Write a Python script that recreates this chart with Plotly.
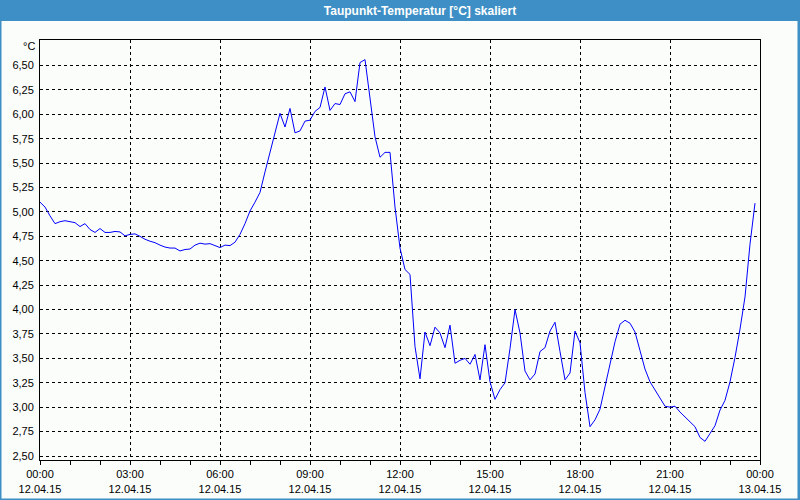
import pandas as pd
import plotly.graph_objects as go

# Dew point temperature, 10-minute samples from 12.04.15 00:00 to 23:50
start_time = "2015-04-12 00:00"
sample_minutes = 10
dewpoint = [
    5.10, 5.05, 4.96, 4.88, 4.90, 4.91,   # 00:00-00:50
    4.90, 4.89, 4.85, 4.88, 4.82, 4.79,   # 01
    4.83, 4.79, 4.79, 4.80, 4.795, 4.755, # 02
    4.77, 4.775, 4.75, 4.72, 4.70, 4.685, # 03
    4.66, 4.64, 4.63, 4.63, 4.60, 4.615,  # 04
    4.62, 4.66, 4.68, 4.67, 4.675, 4.655, # 05
    4.635, 4.66, 4.655, 4.69, 4.77, 4.88, # 06
    5.01, 5.10, 5.20, 5.41, 5.61, 5.81,   # 07
    6.01, 5.87, 6.06, 5.81, 5.83, 5.93,   # 08
    5.94, 6.03, 6.07, 6.28, 6.04, 6.11,   # 09
    6.10, 6.21, 6.23, 6.13, 6.53, 6.56,   # 10
    6.19, 5.77, 5.56, 5.61, 5.61, 5.05,   # 11
    4.63, 4.41, 4.36, 3.62, 3.29, 3.77,   # 12
    3.63, 3.82, 3.76, 3.61, 3.84, 3.45,   # 13
    3.48, 3.50, 3.44, 3.54, 3.28, 3.64,   # 14
    3.26, 3.08, 3.18, 3.25, 3.60, 4.00,   # 15
    3.76, 3.37, 3.28, 3.34, 3.57, 3.61,   # 16
    3.78, 3.87, 3.57, 3.28, 3.35, 3.78,   # 17
    3.66, 3.15, 2.80, 2.87, 2.98, 3.205,  # 18
    3.445, 3.67, 3.85, 3.89, 3.86, 3.77,  # 19
    3.58, 3.39, 3.26, 3.18, 3.10, 3.01,   # 20
    3.00, 3.01, 2.95, 2.90, 2.86, 2.80,   # 21
    2.69, 2.65, 2.73, 2.81, 2.97, 3.07,   # 22
    3.26, 3.51, 3.80, 4.13, 4.67, 5.09,   # 23
]

x_tick_times = ["2015-04-12 00:00", "2015-04-12 03:00", "2015-04-12 06:00",
                "2015-04-12 09:00", "2015-04-12 12:00", "2015-04-12 15:00",
                "2015-04-12 18:00", "2015-04-12 21:00", "2015-04-13 00:00"]
x_tick_labels = ["00:00<br>12.04.15", "03:00<br>12.04.15", "06:00<br>12.04.15",
                 "09:00<br>12.04.15", "12:00<br>12.04.15", "15:00<br>12.04.15",
                 "18:00<br>12.04.15", "21:00<br>12.04.15", "00:00<br>13.04.15"]
y_tick_values = [2.50, 2.75, 3.00, 3.25, 3.50, 3.75, 4.00, 4.25, 4.50,
                 4.75, 5.00, 5.25, 5.50, 5.75, 6.00, 6.25, 6.50]

title_text = "Taupunkt-Temperatur [°C] skaliert"
unit_text = "°C"

times = pd.date_range(start_time, periods=len(dewpoint), freq=f"{sample_minutes}min")

W, H = 800, 500
L, R, T, B = 40, 40, 40, 40
PW, PH = W - L - R, H - T - B

def px(xp):
    return (xp - L) / PW

def py(yp):
    return (H - B - yp) / PH

BG = "#FBFDFB"
BLUE_BAR = "#3D8FC5"
FONT = "Liberation Sans, Arial, sans-serif"

fig = go.Figure()
fig.add_trace(go.Scatter(x=times, y=dewpoint, mode="lines",
                         line=dict(color="#0000FF", width=1),
                         hoverinfo="x+y", showlegend=False))

fig.update_layout(
    width=W, height=H,
    margin=dict(l=L, r=R, t=T, b=B, pad=0, autoexpand=False),
    paper_bgcolor=BG, plot_bgcolor=BG,
    separators=",.",
    font=dict(family=FONT, size=11, color="#000000"),
    title=dict(text="<b>" + title_text + "</b>", x=420 / W, y=1 - 11 / H,
               xanchor="center", yanchor="middle", xref="container",
               yref="container",
               font=dict(family=FONT, size=12, color="#FFFFFF")),
    xaxis=dict(
        type="date", automargin=False,
        range=["2015-04-12 00:00", "2015-04-13 00:00"],
        tickmode="array", tickvals=x_tick_times, ticktext=x_tick_labels,
        showgrid=True, gridcolor="#000000", gridwidth=1, griddash="3px,3px",
        showline=True, linecolor="#000000", linewidth=1, mirror=True,
        ticks="outside", ticklen=4, tickcolor="#000000", tickwidth=1,
        minor=dict(dtick=3600000, ticks="outside", ticklen=4,
                   tickcolor="#000000", showgrid=False),
        tickfont=dict(family=FONT, size=11, color="#000000"),
        zeroline=False, fixedrange=True,
    ),
    yaxis=dict(
        automargin=False,
        range=[2.459, 6.761],
        tickmode="array", tickvals=y_tick_values, tickformat=".2f",
        showgrid=True, gridcolor="#000000", gridwidth=1, griddash="3px,3px",
        showline=True, linecolor="#000000", linewidth=1, mirror=True,
        ticks="", ticklabelstandoff=3,
        tickfont=dict(family=FONT, size=11, color="#000000"),
        zeroline=False, fixedrange=True,
    ),
    shapes=[
        dict(type="rect", xref="paper", yref="paper", layer="above",
             x0=px(0), x1=px(W), y0=py(21), y1=py(0),
             fillcolor=BLUE_BAR, line=dict(width=0)),
        dict(type="rect", xref="paper", yref="paper", layer="above",
             x0=px(0), x1=px(1.5), y0=py(H), y1=py(0),
             fillcolor=BLUE_BAR, line=dict(width=0)),
        dict(type="rect", xref="paper", yref="paper", layer="above",
             x0=px(W - 2.5), x1=px(W), y0=py(H), y1=py(0),
             fillcolor=BLUE_BAR, line=dict(width=0)),
        dict(type="rect", xref="paper", yref="paper", layer="above",
             x0=px(0), x1=px(W), y0=py(H), y1=py(H - 1.5),
             fillcolor=BLUE_BAR, line=dict(width=0)),
    ],
    annotations=[
        dict(text=unit_text, xref="paper", yref="paper", x=px(37), y=py(46),
             xanchor="right", yanchor="middle", showarrow=False,
             font=dict(family=FONT, size=11, color="#000000")),
    ],
)

fig.write_html("out.html")
